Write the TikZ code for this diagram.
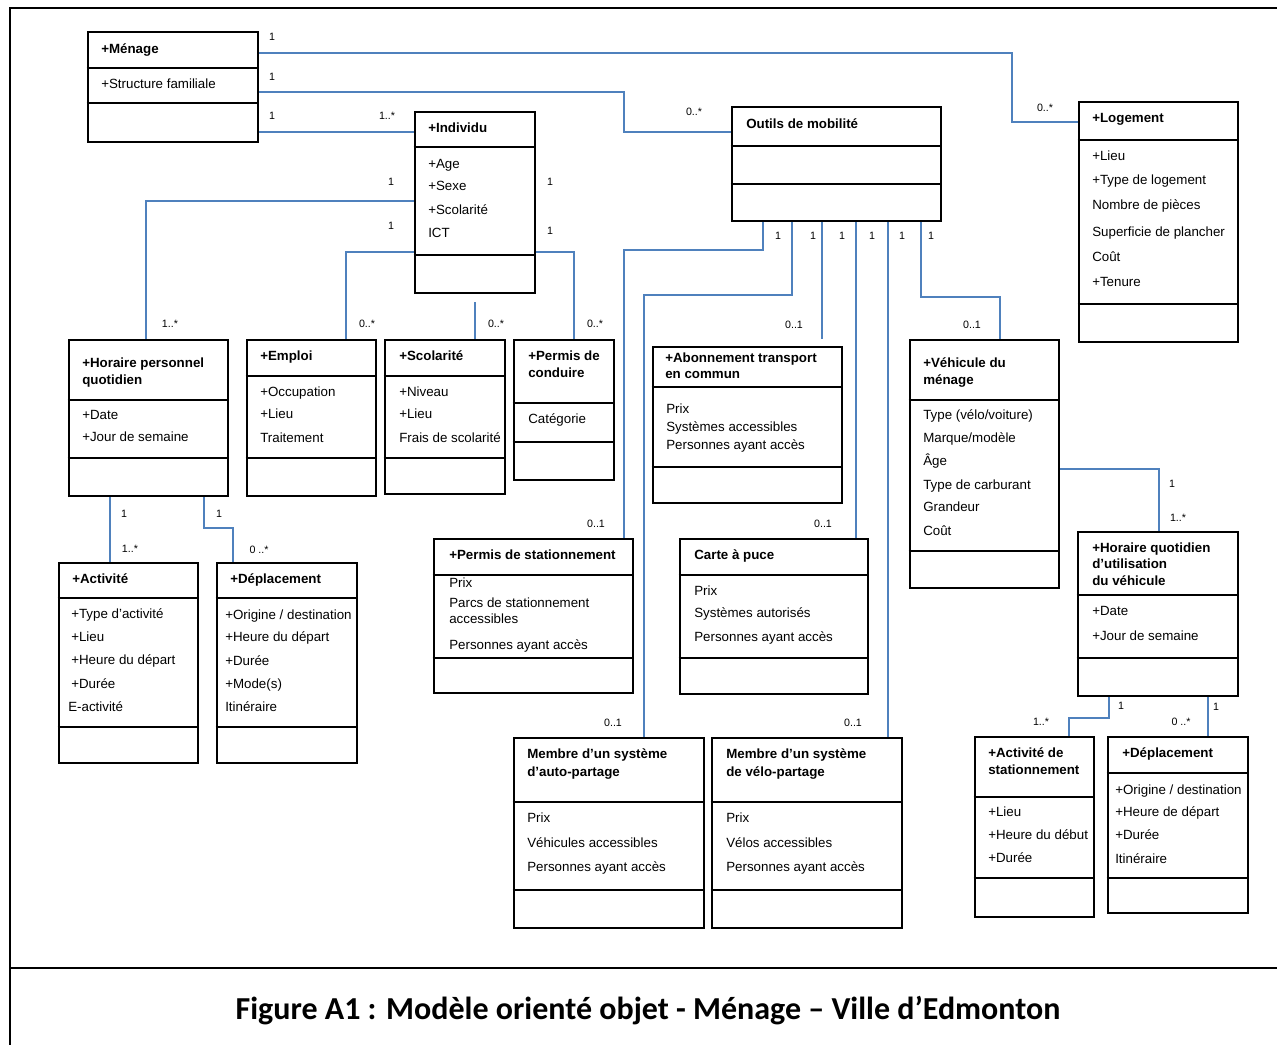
\documentclass[tikz,border=0pt]{standalone}
\usepackage{fontspec}
\setmainfont{Liberation Sans}
\newfontfamily\capfont{Carlito}
\usetikzlibrary{fit}
\definecolor{linkblue}{RGB}{79,129,189}

\tikzset{
  classbox/.style={draw=black, line width=1.9pt, inner sep=0pt, line join=miter},
  sepline/.style={draw=black, line width=1.9pt},
  ctitle/.style={anchor=base west, inner sep=0pt, yshift=-4pt, font=\fontsize{10}{12}\selectfont\bfseries},
  cattr/.style={anchor=base west, inner sep=0pt, yshift=-4pt, font=\fontsize{10}{12}\selectfont},
  mult/.style={inner sep=0pt, font=\fontsize{8}{9}\selectfont},
  assoc/.style={draw=linkblue, line width=1.5pt, line join=miter},
  frame/.style={draw=black, line width=2.2pt},
  caption/.style={anchor=base, inner sep=0pt, font=\capfont\bfseries\fontsize{24}{28}\selectfont},
}

% class box: name, x1, y1, x2, y2, first and second compartment rule
\newcommand{\umlclass}[7]{%
  \node[classbox, fit={(#2,#3) (#4,#5)}] (#1) {};
  \draw[sepline] (#1.west |- 0,#6) -- (#1.east |- 0,#6);
  \draw[sepline] (#1.west |- 0,#7) -- (#1.east |- 0,#7);
}
% text lines of a class: name, x, list of y/text
\newcommand{\titlelines}[3]{\foreach \yy/\txt [count=\k] in {#3} {\node[ctitle] (#1-t\k) at (#2,\yy) {\txt};}}
\newcommand{\attrlines}[3]{\foreach \yy/\txt [count=\k] in {#3} {\node[cattr] (#1-a\k) at (#2,\yy) {\txt};}}

\begin{document}
\begin{tikzpicture}[x=0.75pt, y=-0.75pt]
\useasboundingbox (0,0) rectangle (1277,1045);

% page frame and caption rule
\draw[frame] (10,1045) -- (10,8) -- (1277,8);
\draw[frame] (10,968) -- (1277,968);

% classes
\umlclass{Menage}{88}{32}{258}{142}{68}{103}
\titlelines{Menage}{101}{48/{+Ménage}}
\attrlines{Menage}{101}{83/{+Structure familiale}}

\umlclass{Individu}{415}{112}{535}{293}{147}{255}
\titlelines{Individu}{428}{127/{+Individu}}
\attrlines{Individu}{428}{163/{+Age}, 185/{+Sexe}, 209/{+Scolarité}, 232/{ICT}}

\umlclass{Outils}{732}{107}{941}{221}{146}{184}
\titlelines{Outils}{746}{123/{Outils de mobilité}}

\umlclass{Logement}{1079}{102}{1238}{342}{140}{304}
\titlelines{Logement}{1092}{117/{+Logement}}
\attrlines{Logement}{1092}{155/{+Lieu}, 179/{+Type de logement}, 204/{Nombre de pièces}, 231/{Superficie de plancher}, 256/{Coût}, 281/{+Tenure}}

\umlclass{HoraireP}{69}{340}{228}{496}{400}{458}
\titlelines{HoraireP}{82}{362/{+Horaire personnel}, 379/{quotidien}}
\attrlines{HoraireP}{82}{414/{+Date}, 436/{+Jour de semaine}}

\umlclass{Emploi}{247}{340}{376}{496}{376}{458}
\titlelines{Emploi}{260}{355/{+Emploi}}
\attrlines{Emploi}{260}{391/{+Occupation}, 413/{+Lieu}, 437/{Traitement}}

\umlclass{Scolarite}{385}{340}{505}{494}{376}{458}
\titlelines{Scolarite}{399}{355/{+Scolarité}}
\attrlines{Scolarite}{399}{391/{+Niveau}, 413/{+Lieu}, 437/{Frais de scolarité}}

\umlclass{PermisC}{514}{340}{614}{480}{403}{442}
\titlelines{PermisC}{528}{355/{+Permis de}, 372/{conduire}}
\attrlines{PermisC}{528}{418/{Catégorie}}

\umlclass{Abonn}{653}{347}{842}{503}{387}{467}
\titlelines{Abonn}{665}{357/{+Abonnement transport}, 373/{en commun}}
\attrlines{Abonn}{666}{408/{Prix}, 426/{Systèmes accessibles}, 444/{Personnes ayant accès}}

\umlclass{Vehicule}{910}{340}{1059}{588}{400}{551}
\titlelines{Vehicule}{923}{362/{+Véhicule du}, 379/{ménage}}
\attrlines{Vehicule}{923}{414/{Type (vélo/voiture)}, 437/{Marque/modèle}, 460/{Âge}, 484/{Type de carburant}, 506/{Grandeur}, 530/{Coût}}

\umlclass{HoraireV}{1078}{532}{1238}{696}{595}{658}
\titlelines{HoraireV}{1092}{547/{+Horaire quotidien}, 563/{d’utilisation}, 580/{du véhicule}}
\attrlines{HoraireV}{1092}{610/{+Date}, 635/{+Jour de semaine}}

\umlclass{PermisS}{434}{539}{633}{693}{575}{658}
\titlelines{PermisS}{449}{554/{+Permis de stationnement}}
\attrlines{PermisS}{449}{582/{Prix}, 602/{Parcs de stationnement}, 618/{accessibles}, 644/{Personnes ayant accès}}

\umlclass{Carte}{680}{539}{868}{694}{575}{658}
\titlelines{Carte}{694}{554/{Carte à puce}}
\attrlines{Carte}{694}{590/{Prix}, 612/{Systèmes autorisés}, 636/{Personnes ayant accès}}

\umlclass{Activite}{59}{563}{198}{763}{598}{727}
\titlelines{Activite}{72}{578/{+Activité}}
\attrlines{Activite}{71}{613/{+Type d’activité}, 636/{+Lieu}, 659/{+Heure du départ}, 683/{+Durée}}
\node[cattr] (Activite-a5) at (68,706) {E-activité};

\umlclass{DeplL}{217}{563}{357}{763}{598}{727}
\titlelines{DeplL}{230}{578/{+Déplacement}}
\attrlines{DeplL}{225}{614/{+Origine / destination}, 636/{+Heure du départ}, 660/{+Durée}, 683/{+Mode(s)}, 706/{Itinéraire}}

\umlclass{Auto}{514}{738}{704}{928}{802}{890}
\titlelines{Auto}{527}{753/{Membre d’un système}, 771/{d’auto-partage}}
\attrlines{Auto}{527}{817/{Prix}, 842/{Véhicules accessibles}, 866/{Personnes ayant accès}}

\umlclass{Velo}{712}{738}{902}{928}{802}{890}
\titlelines{Velo}{726}{753/{Membre d’un système}, 771/{de vélo-partage}}
\attrlines{Velo}{726}{817/{Prix}, 842/{Vélos accessibles}, 866/{Personnes ayant accès}}

\umlclass{ActStat}{975}{737}{1094}{917}{797}{878}
\titlelines{ActStat}{988}{752/{+Activité de}, 769/{stationnement}}
\attrlines{ActStat}{988}{811/{+Lieu}, 834/{+Heure du début}, 857/{+Durée}}

\umlclass{DeplR}{1108}{737}{1248}{913}{773}{878}
\titlelines{DeplR}{1122}{752/{+Déplacement}}
\attrlines{DeplR}{1115}{789/{+Origine / destination}, 811/{+Heure de départ}, 834/{+Durée}, 858/{Itinéraire}}

% associations
\draw[assoc] (Menage.east |- 0,53) -| (1012,122) -- (Logement.west |- 0,122);
\draw[assoc] (Menage.east |- 0,92) -| (624,132) -- (Outils.west |- 0,132);
\draw[assoc] (Menage.east |- 0,132) -- (Individu.west |- 0,132);
\draw[assoc] (Individu.west |- 0,201) -| (146,0 |- HoraireP.north);
\draw[assoc] (Individu.west |- 0,252) -| (346,0 |- Emploi.north);
\draw[assoc] ([yshift=-6pt]Individu.south) -- (Individu.south |- Scolarite.north);
\draw[assoc] (Individu.east |- 0,252) -| (574,0 |- PermisC.north);
\draw[assoc] (763,0 |- Outils.south) |- (624,250) -- (624,0 |- PermisS.north);
\draw[assoc] (792,0 |- Outils.south) |- (644,295) -- (644,0 |- Auto.north);
\draw[assoc, shorten >=5pt] (822,0 |- Outils.south) -- (822,0 |- Abonn.north);
\draw[assoc] (856,0 |- Outils.south) -- (856,0 |- Carte.north);
\draw[assoc] (888,0 |- Outils.south) -- (888,0 |- Velo.north);
\draw[assoc] (921,0 |- Outils.south) |- (1000,297) -- (1000,0 |- Vehicule.north);
\draw[assoc] (Vehicule.east |- 0,469) -| (1159,0 |- HoraireV.north);
\draw[assoc] (1109,0 |- HoraireV.south) |- (1069,718) -- (1069,0 |- ActStat.north);
\draw[assoc] (1208,0 |- HoraireV.south) -- (1208,0 |- DeplR.north);
\draw[assoc] (110,0 |- HoraireP.south) -- (110,0 |- Activite.north);
\draw[assoc] (204,0 |- HoraireP.south) |- (233,528) -- (233,0 |- DeplL.north);

% multiplicities
\foreach \xx/\yy/\t [count=\k] in {
  272/37/1, 272/77/1, 272/116/1, 387/116/1..*, 694/112/0..*, 1045/108/0..*,
  391/182/1, 391/226/1, 550/182/1, 550/231/1,
  170/324/1..*, 367/324/0..*, 496/324/0..*, 595/324/0..*, 794/325/0..1, 972/325/0..1,
  778/236/1, 813/236/1, 842/236/1, 872/236/1, 902/236/1, 931/236/1,
  1172/484/1, 1178/518/1..*,
  596/524/0..1, 823/524/0..1,
  124/514/1, 219/514/1, 130/549/1..*, 259/550/0 ..*,
  613/723/0..1, 853/723/0..1,
  1121/706/1, 1216/707/1, 1041/722/1..*, 1181/722/0 ..*}
  {\node[mult] (mult-\k) at (\xx,\yy) {\t};}

% caption
\node[caption] (caption) at (648,1019) {Figure A1 : Modèle orienté objet - Ménage – Ville d’Edmonton};
\end{tikzpicture}
\end{document}
